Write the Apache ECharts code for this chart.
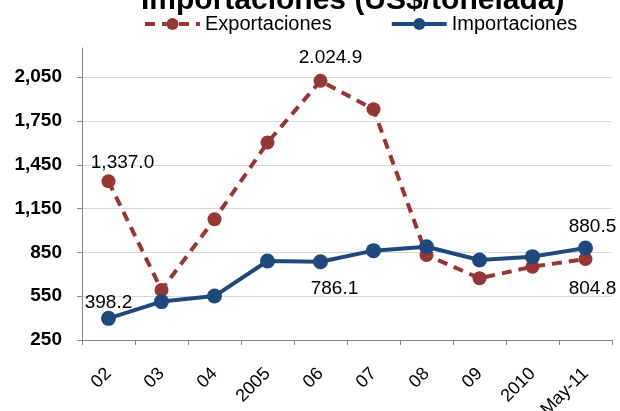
<!DOCTYPE html>
<html>
<head>
<meta charset="utf-8">
<script src="https://cdn.jsdelivr.net/npm/echarts@6/dist/echarts.min.js"></script>
<style>
html,body{margin:0;padding:0;background:#fff;}
#chart{width:620px;height:411px;}
</style>
</head>
<body>
<div id="chart"></div>
<script>
const titleText = 'Importaciones (US$/tonelada)';
const categories = ['02', '03', '04', '2005', '06', '07', '08', '09', '2010', 'May-11'];
const exportValues = [1337.0, 592, 1077, 1602, 2024.9, 1831, 832, 673, 752, 804.8];
const importValues = [398.2, 513, 551, 791, 786.1, 862, 889, 798, 821, 880.5];
const yMin = 250, yMax = 2250, yStep = 300;

const FONT = 'Liberation Sans, Arial, sans-serif';
const RED = '#953735';
const BLUE = '#1F497D';

function fmt(v, sep, dec) {
  const parts = v.toFixed(dec).split('.');
  parts[0] = parts[0].replace(/\B(?=(\d{3})+(?!\d))/g, sep);
  return dec > 0 ? parts[0] + '.' + parts[1] : parts[0];
}

const labelBase = {show: true, color: '#000', fontFamily: FONT, fontSize: 19, distance: 0};
// which points carry a value label, and where
const exportLabels = {
  0: {position: 'top', offset: [14, -2], sep: ','},
  4: {position: 'top', offset: [10, -7], sep: '.'},
  9: {position: 'bottom', offset: [7, 13], sep: ','}
};
const importLabels = {
  0: {position: 'top', offset: [0, 1], sep: ','},
  4: {position: 'bottom', offset: [14, 10], sep: ','},
  9: {position: 'top', offset: [7, -4], sep: ','}
};

function buildData(values, labels) {
  return values.map((v, i) => {
    const l = labels[i];
    if (!l) return v;
    return {
      value: v,
      label: Object.assign({}, labelBase, {
        position: l.position, offset: l.offset,
        formatter: fmt(v, l.sep, 1)
      })
    };
  });
}

const chart = echarts.init(document.getElementById('chart'), null, {renderer: 'canvas'});
chart.setOption({
  animation: false,
  backgroundColor: '#fff',
  title: {
    text: titleText,
    left: 136,
    top: -19,
    textStyle: {fontFamily: FONT, fontSize: 30, fontWeight: 'bold', color: '#000'}
  },
  legend: {
    left: 138,
    top: 9,
    itemWidth: 55,
    itemHeight: 15,
    itemGap: 58,
    lineStyle: {width: 4},
    textStyle: {fontFamily: FONT, fontSize: 20, color: '#000'},
    data: ['Exportaciones', 'Importaciones']
  },
  grid: {left: 82, right: 8, top: 48, bottom: 71, containLabel: false, outerBoundsMode: 'none'},
  xAxis: {
    type: 'category',
    data: categories,
    boundaryGap: true,
    axisLine: {lineStyle: {color: '#868686', width: 1}},
    axisTick: {show: true, length: 5, alignWithLabel: false, lineStyle: {color: '#868686'}},
    axisLabel: {rotate: 45, margin: 31, fontFamily: FONT, fontSize: 18, color: '#000', interval: 0},
    splitLine: {show: false}
  },
  yAxis: {
    type: 'value',
    min: yMin, max: yMax, interval: yStep,
    axisLine: {show: true, lineStyle: {color: '#868686', width: 1}},
    axisTick: {show: true, length: 5, lineStyle: {color: '#868686'}},
    axisLabel: {
      margin: 20, fontFamily: FONT, fontSize: 19, fontWeight: 'bold', color: '#000',
      showMaxLabel: false,
      formatter: v => fmt(v, ',', 0)
    },
    splitLine: {show: true, showMaxLine: false, showMinLine: false, lineStyle: {color: '#d9d9d9', width: 1}}
  },
  series: [
    {
      name: 'Exportaciones',
      type: 'line',
      data: buildData(exportValues, exportLabels),
      symbol: 'circle',
      symbolSize: 14,
      itemStyle: {color: RED},
      lineStyle: {color: RED, width: 4, type: [10, 7]},
      z: 2
    },
    {
      name: 'Importaciones',
      type: 'line',
      data: buildData(importValues, importLabels),
      symbol: 'circle',
      symbolSize: 15,
      itemStyle: {color: BLUE},
      lineStyle: {color: BLUE, width: 4},
      z: 3
    }
  ]
});
</script>
</body>
</html>
